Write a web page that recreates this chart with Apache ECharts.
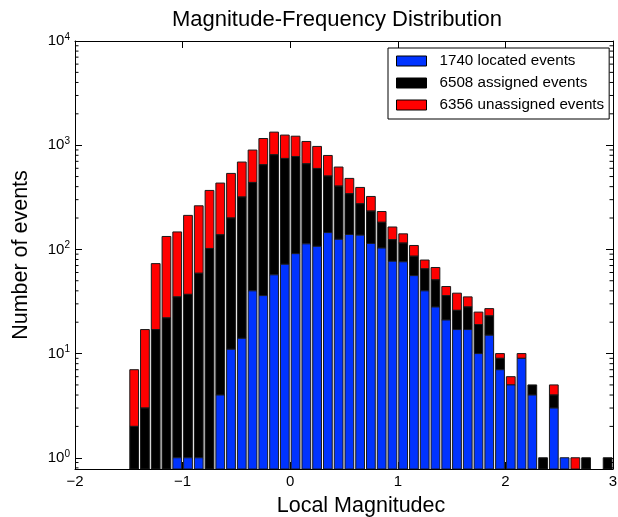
<!DOCTYPE html>
<html>
<head>
<meta charset="utf-8">
<script src="https://cdn.jsdelivr.net/npm/echarts@6/dist/echarts.min.js"></script>
<style>html,body{margin:0;padding:0;background:#fff}#c{width:618px;height:517px}</style>
</head>
<body>
<div id="c"></div>
<script>
// ---- data (bin left edges, width 0.1) ----
const binStarts = [-1.5,-1.4,-1.3,-1.2,-1.1,-1.0,-0.9,-0.8,-0.7,-0.6,-0.5,-0.4,-0.3,-0.2,-0.1,
  0.0,0.1,0.2,0.3,0.4,0.5,0.6,0.7,0.8,0.9,1.0,1.1,1.2,1.3,1.4,1.5,1.6,1.7,1.8,1.9,
  2.0,2.1,2.2,2.3,2.4,2.5,2.6,2.7,2.8,2.9];
const located = [0,0,0,0,1,1,1,0,4,11,14,40,36,57,72,
  91,113,107,145,125,139,137,114,103,77,76,56,40,28,21,17,17,10,15,7,
  5,9,4,0,3,1,0,0,0,0];
const assigned = [2,3,17,22,34,36,58,102,134,189,304,399,613,752,674,
  688,550,491,361,280,203,137,119,79,47,39,30,25,23,15,9,11,9,8,2,
  0,0,1,1,1,0,0,1,0,1];
const unassigned = [5,14,56,111,112,175,203,266,295,336,371,459,510,526,504,
  441,423,375,291,212,138,119,89,49,40,26,23,14,16,8,12,7,6,4,1,
  1,1,0,0,1,0,1,0,0,0];
const seriesNames = ['1740 located events','6508 assigned events','6356 unassigned events'];
const xTickLabels = {'-2':'\u22122','-1':'\u22121','0':'0','1':'1','2':'2','3':'3'};
const yMinorTicks = [0.8,0.9,2,3,4,5,6,7,8,9,20,30,40,50,60,70,80,90,
  200,300,400,500,600,700,800,900,2000,3000,4000,5000,6000,7000,8000,9000];

const BIN = 0.1, XMIN = -2, XMAX = 3, YMIN = 0.78, YMAX = 10000;
const FONT = 'Liberation Sans, Arial, Helvetica, sans-serif';
const COLORS = ['#0033FF', '#000000', '#FF0000'];

// cumulative bases for the stacked histogram
const cumLocated = located.slice();
const cumAssigned = located.map((v, i) => v + assigned[i]);
function segments(lower, vals) {
  const out = [];
  binStarts.forEach((b, i) => {
    const v = vals[i];
    if (!v) return;
    const base = lower ? lower[i] : 0;
    out.push([b, base > 0 ? base : YMIN, base + v]);
  });
  return out;
}

function barRender(color) {
  return function (params, api) {
    const x0 = api.value(0), lo = api.value(1), hi = api.value(2);
    const a = api.coord([x0, hi]);
    const b = api.coord([x0 + BIN, lo]);
    const inset = 1.0;
    return {
      type: 'rect',
      shape: {x: a[0] + inset, y: a[1], width: b[0] - a[0] - 2 * inset, height: b[1] - a[1]},
      style: {fill: color, stroke: '#1a1a1a', lineWidth: 1}
    };
  };
}

function barSeries(idx, data) {
  return {
    type: 'custom', name: seriesNames[idx], clip: true,
    itemStyle: {color: COLORS[idx]},
    dimensions: ['x', 'lo', 'hi'],
    encode: {x: 0, y: [1, 2]},
    renderItem: barRender(COLORS[idx]),
    data: data
  };
}

const axisLine = {show: true, onZero: false, lineStyle: {color: '#000', width: 1}};
const chart = echarts.init(document.getElementById('c'), null, {renderer: 'canvas'});
chart.setOption({
  animation: false,
  backgroundColor: '#fff',
  title: {
    text: 'Magnitude-Frequency Distribution',
    left: 337, top: 9, padding: 0, textAlign: 'center',
    textStyle: {fontSize: 22, fontWeight: 'normal', color: '#000', fontFamily: FONT}
  },
  legend: {
    orient: 'vertical', left: 388, top: 48,
    itemWidth: 30, itemHeight: 10, itemGap: 4,
    padding: [4, 5, 5, 8],
    borderColor: '#000', borderWidth: 1, backgroundColor: '#fff',
    textStyle: {fontSize: 15.2, color: '#000', fontFamily: FONT, lineHeight: 18, padding: [0, 0, 0, 8]},
    data: seriesNames.map((n, i) => ({name: n, icon: 'rect',
      itemStyle: {color: COLORS[i], borderColor: '#000', borderWidth: 1}}))
  },
  grid: {left: 75, right: 5, top: 41, bottom: 48, containLabel: false, outerBoundsMode: 'none'},
  xAxis: [{
    type: 'value', min: XMIN, max: XMAX, interval: 1, position: 'bottom',
    axisLine: axisLine,
    axisTick: {inside: true, length: 7, lineStyle: {color: '#000'}},
    axisLabel: {color: '#000', fontSize: 15, fontFamily: FONT, margin: 5,
      formatter: v => xTickLabels[String(Math.round(v))] || ''},
    splitLine: {show: false},
    name: 'Local Magnitudec', nameLocation: 'middle', nameGap: 26,
    nameTextStyle: {fontSize: 21.5, color: '#000', fontFamily: FONT, padding: [0, 0, 0, 34]}
  }, {
    type: 'value', min: XMIN, max: XMAX, interval: 1, position: 'top',
    axisLine: axisLine,
    axisTick: {inside: true, length: 7, lineStyle: {color: '#000'}},
    axisLabel: {show: false}, splitLine: {show: false}
  }],
  yAxis: [{
    type: 'log', logBase: 10, min: YMIN, max: YMAX, position: 'left',
    axisLine: axisLine,
    axisTick: {inside: true, length: 7, lineStyle: {color: '#000'}},
    axisLabel: {
      margin: 5,
      formatter: v => {
        const l = Math.log10(v), e = Math.round(l);
        if (Math.abs(l - e) > 1e-6) return '';
        return '{b|10}{s|' + e + '}';
      },
      rich: {
        b: {fontSize: 15, color: '#000', fontFamily: FONT, lineHeight: 18},
        s: {fontSize: 10, color: '#000', fontFamily: FONT, verticalAlign: 'top', lineHeight: 10}
      }
    },
    splitLine: {show: false},
    name: 'Number of events', nameLocation: 'middle', nameGap: 43,
    nameTextStyle: {fontSize: 21.5, color: '#000', fontFamily: FONT}
  }, {
    type: 'log', logBase: 10, min: YMIN, max: YMAX, position: 'right',
    axisLine: axisLine,
    axisTick: {inside: true, length: 7, lineStyle: {color: '#000'}},
    axisLabel: {show: false}, splitLine: {show: false}
  }],
  series: [
    barSeries(2, segments(cumAssigned, unassigned)),
    barSeries(1, segments(cumLocated, assigned)),
    barSeries(0, segments(null, located)),
    {
      type: 'custom', silent: true, clip: false,
      encode: {x: 0, y: 1},
      data: yMinorTicks.map(v => [XMIN, v]),
      renderItem: (params, api) => {
        const v = api.value(1);
        const L = api.coord([XMIN, v]);
        const R = api.coord([XMAX, v]);
        return {type: 'group', children: [
          {type: 'line', shape: {x1: L[0], y1: L[1], x2: L[0] + 3.5, y2: L[1]}, style: {stroke: '#000', lineWidth: 1}},
          {type: 'line', shape: {x1: R[0] - 3.5, y1: R[1], x2: R[0], y2: R[1]}, style: {stroke: '#000', lineWidth: 1}}
        ]};
      }
    }
  ]
});
</script>
</body>
</html>
